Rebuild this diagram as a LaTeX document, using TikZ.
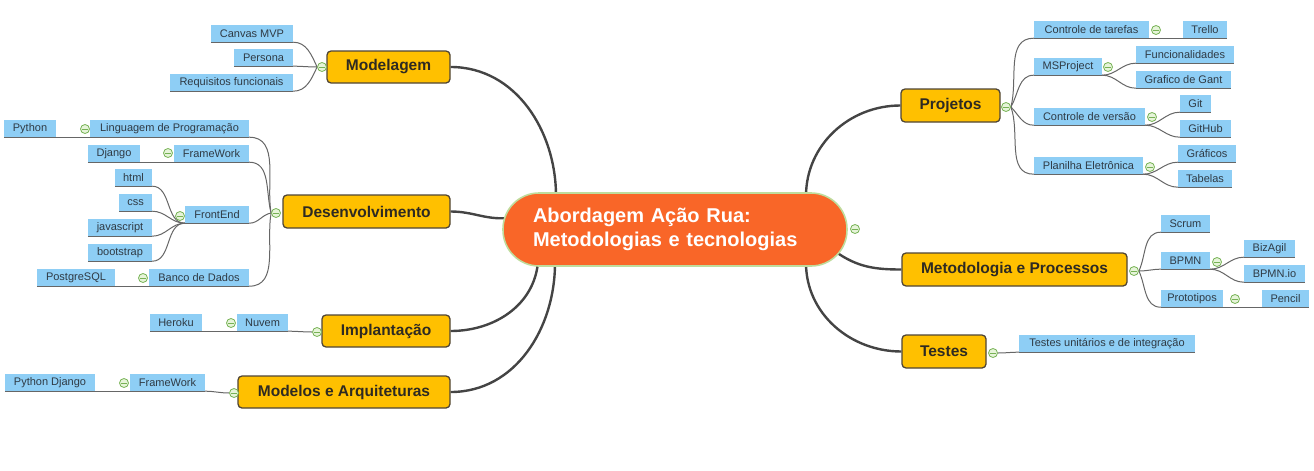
\documentclass[tikz,border=0pt]{standalone}
\usepackage{fontspec}
\setmainfont{Liberation Sans}
\usetikzlibrary{backgrounds}
\definecolor{mainyellow}{HTML}{FFC000}
\definecolor{maindark}{HTML}{4F4536}
\definecolor{maintext}{HTML}{2E2A22}
\definecolor{centralorange}{HTML}{F96628}
\definecolor{centralborder}{HTML}{BFDC9C}
\definecolor{leafblue}{HTML}{8ECEF5}
\definecolor{leaftext}{HTML}{2F3A44}
\definecolor{branchline}{HTML}{444444}
\definecolor{leafline}{HTML}{666666}
\definecolor{toggreen}{HTML}{77B255}
\definecolor{togfill}{HTML}{E6F4D9}
\begin{document}
\begin{tikzpicture}[x=1pt,y=1pt,
 central/.style={rectangle, rounded corners=36pt, fill=centralorange, draw=centralborder, line width=1.6pt, minimum width=344pt, minimum height=73pt, inner sep=0pt, text=white, font=\bfseries\fontsize{20}{24}\selectfont, text width=284pt, align=left},
 mainbox/.style={rectangle, rounded corners=4pt, fill=mainyellow, draw=maindark, line width=1.3pt, minimum height=32pt, inner sep=0pt, text=maintext, font=\bfseries\fontsize{15.5}{18}\selectfont},
 leaf/.style={rectangle, fill=leafblue, minimum height=17pt, inner sep=0pt, text=leaftext, font=\fontsize{11}{13}\selectfont},
 toggle/.style={circle, draw=toggreen, fill=togfill, line width=0.8pt, minimum size=9pt, inner sep=0pt,
   path picture={\draw[toggreen, line width=0.9pt] ([xshift=-2.6pt]path picture bounding box.center) -- ([xshift=2.6pt]path picture bounding box.center);}},
 branch/.style={draw=branchline, line width=2.4pt},
 twig/.style={draw=leafline, line width=1pt},
]
\useasboundingbox (0,0) rectangle (1314,-471);

% central
\node[central] (central) at (675,-229.5) {Abordagem Ação Rua:\\Metodologias e tecnologias};
\node[toggle] (tCen) at (855,-229) {};

% main topics
\node[mainbox, minimum width=123pt] (modelagem) at (388.5,-67) {Modelagem};
\node[mainbox, minimum width=167pt, minimum height=33pt] (desenv) at (366.5,-211.5) {Desenvolvimento};
\node[mainbox, minimum width=128pt] (implant) at (386,-331) {Implantação};
\node[mainbox, minimum width=212pt] (modelos) at (344,-392) {Modelos e Arquiteturas};
\node[mainbox, minimum width=99pt, minimum height=33pt] (projetos) at (950.5,-105.5) {Projetos};
\node[mainbox, minimum width=225pt, minimum height=33pt] (metod) at (1014.5,-269.5) {Metodologia e Processos};
\node[mainbox, minimum width=84pt, minimum height=33pt] (testes) at (944,-351.5) {Testes};

% toggles of main topics
\node[toggle] (tMod) at (322,-67) {};
\node[toggle] (tDes) at (276,-213) {};
\node[toggle] (tImp) at (317,-332) {};
\node[toggle] (tMods) at (234,-393) {};
\node[toggle] (tProj) at (1006,-107) {};
\node[toggle] (tMet) at (1134,-271) {};
\node[toggle] (tTes) at (993,-353) {};

% left leaves
\node[leaf, minimum width=82pt] (canvas) at (252,-33.5) {Canvas MVP};
\node[leaf, minimum width=59pt] (persona) at (263.5,-57.5) {Persona};
\node[leaf, minimum width=123pt] (requisitos) at (231.5,-82.5) {Requisitos funcionais};
\node[leaf, minimum width=52pt] (python) at (30,-128.5) {Python};
\node[leaf, minimum width=159pt] (linguagem) at (169.5,-128.5) {Linguagem de Programação};
\node[leaf, minimum width=52pt] (django) at (114,-153.5) {Django};
\node[leaf, minimum width=75pt] (framework1) at (211.5,-153.5) {FrameWork};
\node[leaf, minimum width=37pt] (html) at (133.5,-177.5) {html};
\node[leaf, minimum width=33pt] (css) at (135.5,-202.5) {css};
\node[leaf, minimum width=64pt] (frontend) at (217,-214.5) {FrontEnd};
\node[leaf, minimum width=64pt] (javascript) at (120,-227.5) {javascript};
\node[leaf, minimum width=64pt] (bootstrap) at (120,-252.5) {bootstrap};
\node[leaf, minimum width=78pt] (postgres) at (76,-277.5) {PostgreSQL};
\node[leaf, minimum width=100pt] (banco) at (199,-277.5) {Banco de Dados};
\node[leaf, minimum width=52pt] (heroku) at (176,-322.5) {Heroku};
\node[leaf, minimum width=51pt] (nuvem) at (262.5,-322.5) {Nuvem};
\node[leaf, minimum width=75pt] (framework2) at (167.5,-382.5) {FrameWork};
\node[leaf, minimum width=90pt] (pydjango) at (50,-382.5) {Python Django};

% left leaf toggles
\node[toggle] (tLing) at (85,-129) {};
\node[toggle] (tFw1) at (168,-153) {};
\node[toggle] (tFront) at (180,-216) {};
\node[toggle] (tBanco) at (143,-278) {};
\node[toggle] (tNuvem) at (231,-323) {};
\node[toggle] (tFw2) at (124,-383) {};

% right leaves
\node[leaf, minimum width=115pt] (ctarefas) at (1091.5,-29.5) {Controle de tarefas};
\node[leaf, minimum width=44pt] (trello) at (1205,-29.5) {Trello};
\node[leaf, minimum width=68pt] (msproject) at (1068,-66.5) {MSProject};
\node[leaf, minimum width=98pt] (funcional) at (1185,-54.5) {Funcionalidades};
\node[leaf, minimum width=95pt] (gant) at (1183.5,-79.5) {Grafico de Gant};
\node[leaf, minimum width=111pt] (cversao) at (1089.5,-116.5) {Controle de versão};
\node[leaf, minimum width=31pt] (git) at (1195.5,-103.5) {Git};
\node[leaf, minimum width=51pt] (github) at (1205.5,-128.5) {GitHub};
\node[leaf, minimum width=109pt] (planilha) at (1088.5,-165.5) {Planilha Eletrônica};
\node[leaf, minimum width=58pt] (graficos) at (1207,-153.5) {Gráficos};
\node[leaf, minimum width=54pt] (tabelas) at (1205,-178.5) {Tabelas};
\node[leaf, minimum width=49pt] (scrum) at (1185.5,-223.5) {Scrum};
\node[leaf, minimum width=49pt] (bpmn) at (1185.5,-260.5) {BPMN};
\node[leaf, minimum width=51pt] (bizagil) at (1269.5,-248.5) {BizAgil};
\node[leaf, minimum width=61pt] (bpmnio) at (1274.5,-273.5) {BPMN.io};
\node[leaf, minimum width=62pt] (prototipos) at (1192,-298.5) {Prototipos};
\node[leaf, minimum width=47pt] (pencil) at (1285.5,-298.5) {Pencil};
\node[leaf, minimum width=176pt] (testesunit) at (1107,-343.5) {Testes unitários e de integração};

% right leaf toggles
\node[toggle] (tCtar) at (1156,-30) {};
\node[toggle] (tMsp) at (1108,-67) {};
\node[toggle] (tCver) at (1152,-117) {};
\node[toggle] (tPlan) at (1150,-167) {};
\node[toggle] (tBpmn) at (1217,-262) {};
\node[toggle] (tProto) at (1235,-299) {};

% attachment points on the central topic
\coordinate (aMod) at (556,-196);
\coordinate (aDes) at (508,-218);
\coordinate (aImp) at (538,-262);
\coordinate (aMods) at (555,-263);
\coordinate (aProj) at (806,-196);
\coordinate (aMet) at (836,-252);
\coordinate (aTes) at (806,-263);

\begin{pgfonlayer}{background}
% main branches
\draw[branch] (modelagem.east) to[out=0,in=90] (aMod);
\draw[branch] (desenv.east) to[out=0,in=185] (aDes);
\draw[branch] (implant.east) to[out=0,in=-95] (aImp);
\draw[branch] (modelos.east) to[out=0,in=-90] (aMods);
\draw[branch] (projetos.west) to[out=180,in=90] (aProj);
\draw[branch] (metod.west) to[out=180,in=-35] (aMet);
\draw[branch] (testes.west) to[out=180,in=-90] (aTes);

% underlines of leaves
\foreach \n in {canvas,persona,requisitos,python,linguagem,django,framework1,html,css,frontend,javascript,bootstrap,postgres,banco,heroku,nuvem,framework2,pydjango,ctarefas,trello,msproject,funcional,gant,cversao,git,github,planilha,graficos,tabelas,scrum,bpmn,bizagil,bpmnio,prototipos,pencil,testesunit}
  \draw[twig] (\n.south west) -- (\n.south east);

% left twigs
\draw[twig] (tMod.west) to[out=115,in=0] (canvas.south east);
\draw[twig] (tMod.west) to[out=180,in=0] (persona.south east);
\draw[twig] (tMod.west) to[out=-115,in=0] (requisitos.south east);
\draw[twig] (tDes.west) to[out=100,in=0] (linguagem.south east);
\draw[twig] (tDes.west) to[out=105,in=0] (framework1.south east);
\draw[twig] (tDes.west) to[out=190,in=0] (frontend.south east);
\draw[twig] (tDes.west) to[out=-100,in=0] (banco.south east);
\draw[twig] (tImp.west) to[out=180,in=0] (nuvem.south east);
\draw[twig] (tMods.west) to[out=180,in=0] (framework2.south east);
\draw[twig] (linguagem.south west) -- (python.south east);
\draw[twig] (framework1.south west) -- (django.south east);
\draw[twig] (frontend.south west) to[out=180,in=0] (html.south east);
\draw[twig] (frontend.south west) to[out=180,in=0] (css.south east);
\draw[twig] (frontend.south west) to[out=180,in=0] (javascript.south east);
\draw[twig] (frontend.south west) to[out=180,in=0] (bootstrap.south east);
\draw[twig] (banco.south west) -- (postgres.south east);
\draw[twig] (nuvem.south west) -- (heroku.south east);
\draw[twig] (framework2.south west) -- (pydjango.south east);

% right twigs
\draw[twig] (tProj.east) to[out=75,in=180] (ctarefas.south west);
\draw[twig] (tProj.east) to[out=60,in=180] (msproject.south west);
\draw[twig] (tProj.east) to[out=-45,in=180] (cversao.south west);
\draw[twig] (tProj.east) to[out=-70,in=180] (planilha.south west);
\draw[twig] (tMet.east) to[out=65,in=180] (scrum.south west);
\draw[twig] (tMet.east) to[out=0,in=180] (bpmn.south west);
\draw[twig] (tMet.east) to[out=-65,in=180] (prototipos.south west);
\draw[twig] (tTes.east) to[out=0,in=180] (testesunit.south west);
\draw[twig] (ctarefas.south east) -- (trello.south west);
\draw[twig] (msproject.south east) to[out=0,in=180] (funcional.south west);
\draw[twig] (msproject.south east) to[out=0,in=180] (gant.south west);
\draw[twig] (cversao.south east) to[out=0,in=180] (git.south west);
\draw[twig] (cversao.south east) to[out=0,in=180] (github.south west);
\draw[twig] (planilha.south east) to[out=0,in=180] (graficos.south west);
\draw[twig] (planilha.south east) to[out=0,in=180] (tabelas.south west);
\draw[twig] (bpmn.south east) to[out=0,in=180] (bizagil.south west);
\draw[twig] (bpmn.south east) to[out=0,in=180] (bpmnio.south west);
\draw[twig] (prototipos.south east) -- (pencil.south west);
\end{pgfonlayer}
\end{tikzpicture}
\end{document}
